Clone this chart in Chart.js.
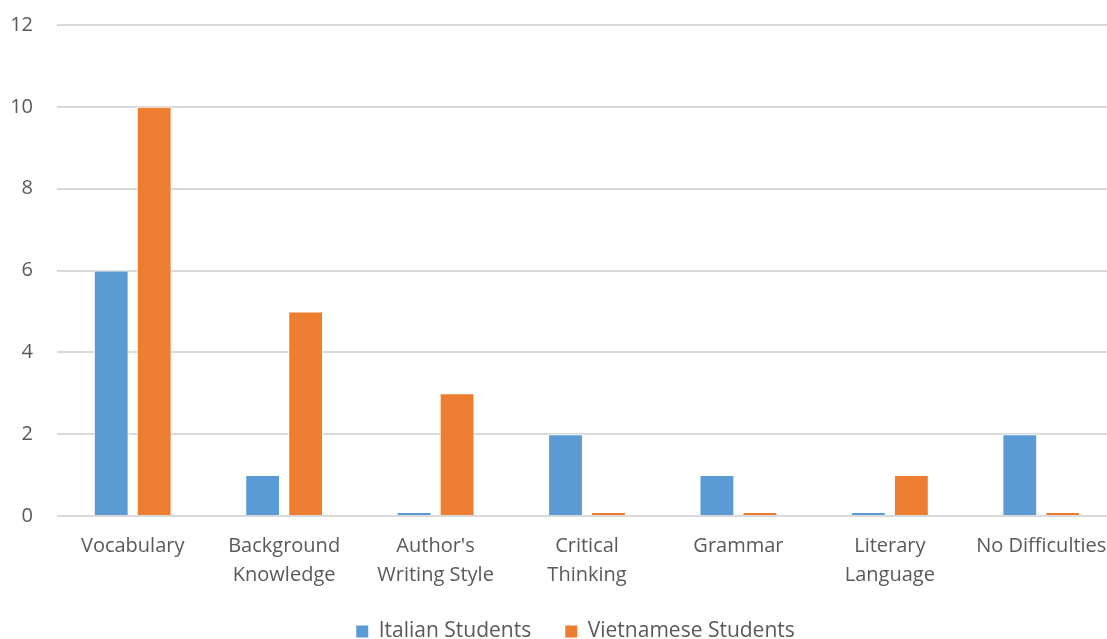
<!DOCTYPE html>
<html>
<head>
<meta charset="utf-8">
<script src="https://cdn.jsdelivr.net/npm/chart.js@4/dist/chart.umd.min.js"></script>
<style>
  html, body { margin: 0; padding: 0; background: #fff; overflow: hidden; width: 1107px; height: 639px; }
  #wrap { width: 1150px; height: 639px; position: relative; }
</style>
</head>
<body>
<div id="wrap"><canvas id="chart"></canvas></div>
<script>
// Reported reading difficulties by student group
const categories = [
  ['Vocabulary'],
  ['Background', 'Knowledge'],
  ["Author's", 'Writing Style'],
  ['Critical', 'Thinking'],
  ['Grammar'],
  ['Literary', 'Language'],
  ['No Difficulties']
];
const italianStudents    = [6, 1, 0.1, 2, 1, 0.1, 2];
const vietnameseStudents = [10, 5, 3, 0.1, 0.1, 1, 0.1];
const yTicks = [0, 2, 4, 6, 8, 10, 12];

const textColor = '#595959';
const fontFamily = "'Open Sans', 'Noto Sans', sans-serif";
const axisFont = { family: fontFamily, size: 20, lineHeight: 1.45 };
const legendFont = { family: fontFamily, size: 21 };

// keep the legend band compact while leaving wide gaps between its items,
// and centre it on the whole canvas rather than on the padded area
const legendLayout = {
  id: 'legendLayout',
  beforeUpdate(chart) {
    const lg = chart.legend;
    if (lg && !lg._compactFit) {
      const fit = lg.fit.bind(lg);
      lg.fit = function () { fit(); this.height = 52; };
      lg._compactFit = true;
    }
  },
  afterLayout(chart) {
    const lg = chart.legend;
    if (lg) { lg.left += 17; lg.right += 17; }
  }
};

new Chart(document.getElementById('chart'), {
  type: 'bar',
  data: {
    labels: categories,
    datasets: [
      {
        label: 'Italian Students',
        data: italianStudents,
        backgroundColor: '#5B9BD5',
        borderColor: '#ffffff',
        borderWidth: 1
      },
      {
        label: 'Vietnamese Students',
        data: vietnameseStudents,
        backgroundColor: '#ED7D31',
        borderColor: '#ffffff',
        borderWidth: 1
      }
    ]
  },
  plugins: [legendLayout],
  options: {
    responsive: true,
    maintainAspectRatio: false,
    animation: false,
    layout: { padding: { top: 25, right: 33, bottom: 0, left: 0 } },
    datasets: {
      bar: { categoryPercentage: 0.568, barPercentage: 0.81 }
    },
    plugins: {
      tooltip: { enabled: false },
      legend: {
        position: 'bottom',
        labels: {
          color: textColor,
          font: legendFont,
          boxWidth: 12,
          boxHeight: 12,
          padding: 34,
          generateLabels(chart) {
            const items = Chart.defaults.plugins.legend.labels.generateLabels(chart);
            items.forEach(it => { it.lineWidth = 0; it.strokeStyle = 'rgba(0,0,0,0)'; });
            return items;
          }
        }
      }
    },
    scales: {
      x: {
        grid: { display: false, drawTicks: false },
        border: { display: false },
        afterFit(axis) { axis.height = 71; },
        ticks: { color: textColor, font: axisFont, padding: 16, maxRotation: 0, autoSkip: false }
      },
      y: {
        min: 0,
        max: 12,
        afterBuildTicks(axis) { axis.ticks = yTicks.map(v => ({ value: v })); },
        afterFit(axis) { axis.width = 57; axis.paddingTop = 0; axis.paddingBottom = 0; },
        grid: { color: '#D9D9D9', lineWidth: 2, drawTicks: false },
        border: { display: false },
        ticks: { color: textColor, font: { family: fontFamily, size: 20 }, padding: 24 }
      }
    }
  }
});
</script>
</body>
</html>
